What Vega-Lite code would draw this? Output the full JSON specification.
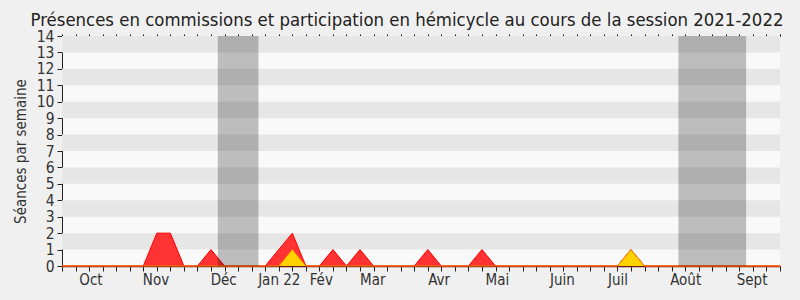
{
  "$schema": "https://vega.github.io/schema/vega-lite/v6.json",
  "width": 718,
  "height": 230,
  "autosize": "none",
  "padding": {"left": 62, "top": 36, "right": 20, "bottom": 34},
  "background": "#f0f0f0",
  "view": {"fill": "#f9f9f9", "stroke": null},
  "title": {
    "text": "Présences en commissions et participation en hémicycle au cours de la session 2021-2022",
    "font": "DejaVu Sans Condensed",
    "fontSize": 18.4,
    "fontWeight": "normal",
    "color": "#222222",
    "anchor": "middle",
    "offset": 0,
    "dx": -14
  },
  "config": {
    "axis": {"labelFont": "DejaVu Sans Condensed", "titleFont": "DejaVu Sans Condensed", "labelColor": "#333333", "titleColor": "#333333"}
  },
  "resolve": {"axis": {"x": "independent", "y": "independent"}},
  "layer": [
    {
      "data": {"values": [
        {"lo": 1, "hi": 2}, {"lo": 3, "hi": 4}, {"lo": 5, "hi": 6}, {"lo": 7, "hi": 8},
        {"lo": 9, "hi": 10}, {"lo": 11, "hi": 12}, {"lo": 13, "hi": 14}
      ]},
      "mark": {"type": "rect", "color": "#e6e6e6"},
      "encoding": {
        "x": {"datum": 0, "type": "quantitative",
          "scale": {"domain": [0, 53], "nice": false, "zero": false},
          "axis": {"orient": "bottom", "values": [0,1,2,3,4,5,6,7,8,9,10,11,12,13,14,15,16,17,18,19,20,21,22,23,24,25,26,27,28,29,30,31,32,33,34,35,36,37,38,39,40,41,42,43,44,45,46,47,48,49,50,51,52,53],
            "labels": false, "title": null, "grid": false, "tickSize": 5, "tickColor": "#222222", "domainColor": "#6b1b10", "domainWidth": 1.5}},
        "x2": {"datum": 53},
        "y": {"field": "lo", "type": "quantitative",
          "scale": {"domain": [0, 14], "nice": false},
          "axis": {"orient": "left", "values": [0,1,2,3,4,5,6,7,8,9,10,11,12,13,14], "title": "Séances par semaine", "titleFontSize": 15, "titleFontWeight": "normal", "titlePadding": 8,
            "labelFontSize": 15.5, "labelPadding": 3, "tickSize": 5, "tickColor": "#222222", "domainColor": "#222222", "grid": false, "labelFlush": false, "labelOverlap": false}},
        "y2": {"field": "hi"}
      }
    },
    {
      "data": {"values": [
        {"week": 0, "commissions": 0, "hemicycle": 0}, {"week": 1, "commissions": 0, "hemicycle": 0},
        {"week": 2, "commissions": 0, "hemicycle": 0}, {"week": 3, "commissions": 0, "hemicycle": 0},
        {"week": 4, "commissions": 0, "hemicycle": 0}, {"week": 5, "commissions": 0, "hemicycle": 0},
        {"week": 6, "commissions": 0, "hemicycle": 0}, {"week": 7, "commissions": 2, "hemicycle": 0},
        {"week": 8, "commissions": 2, "hemicycle": 0}, {"week": 9, "commissions": 0, "hemicycle": 0},
        {"week": 10, "commissions": 0, "hemicycle": 0}, {"week": 11, "commissions": 1, "hemicycle": 0},
        {"week": 12, "commissions": 0, "hemicycle": 0}, {"week": 13, "commissions": 0, "hemicycle": 0},
        {"week": 14, "commissions": 0, "hemicycle": 0}, {"week": 15, "commissions": 0, "hemicycle": 0},
        {"week": 16, "commissions": 1, "hemicycle": 0}, {"week": 17, "commissions": 2, "hemicycle": 1},
        {"week": 18, "commissions": 0, "hemicycle": 0}, {"week": 19, "commissions": 0, "hemicycle": 0},
        {"week": 20, "commissions": 1, "hemicycle": 0}, {"week": 21, "commissions": 0, "hemicycle": 0},
        {"week": 22, "commissions": 1, "hemicycle": 0}, {"week": 23, "commissions": 0, "hemicycle": 0},
        {"week": 24, "commissions": 0, "hemicycle": 0}, {"week": 25, "commissions": 0, "hemicycle": 0},
        {"week": 26, "commissions": 0, "hemicycle": 0}, {"week": 27, "commissions": 1, "hemicycle": 0},
        {"week": 28, "commissions": 0, "hemicycle": 0}, {"week": 29, "commissions": 0, "hemicycle": 0},
        {"week": 30, "commissions": 0, "hemicycle": 0}, {"week": 31, "commissions": 1, "hemicycle": 0},
        {"week": 32, "commissions": 0, "hemicycle": 0}, {"week": 33, "commissions": 0, "hemicycle": 0},
        {"week": 34, "commissions": 0, "hemicycle": 0}, {"week": 35, "commissions": 0, "hemicycle": 0},
        {"week": 36, "commissions": 0, "hemicycle": 0}, {"week": 37, "commissions": 0, "hemicycle": 0},
        {"week": 38, "commissions": 0, "hemicycle": 0}, {"week": 39, "commissions": 0, "hemicycle": 0},
        {"week": 40, "commissions": 0, "hemicycle": 0}, {"week": 41, "commissions": 0, "hemicycle": 0},
        {"week": 42, "commissions": 1, "hemicycle": 1}, {"week": 43, "commissions": 0, "hemicycle": 0},
        {"week": 44, "commissions": 0, "hemicycle": 0}, {"week": 45, "commissions": 0, "hemicycle": 0},
        {"week": 46, "commissions": 0, "hemicycle": 0}, {"week": 47, "commissions": 0, "hemicycle": 0},
        {"week": 48, "commissions": 0, "hemicycle": 0}, {"week": 49, "commissions": 0, "hemicycle": 0},
        {"week": 50, "commissions": 0, "hemicycle": 0}, {"week": 51, "commissions": 0, "hemicycle": 0},
        {"week": 52, "commissions": 0, "hemicycle": 0}, {"week": 53, "commissions": 0, "hemicycle": 0}
      ]},
      "resolve": {"axis": {"x": "independent", "y": "independent"}},
      "layer": [
        {
          "mark": {"type": "area", "color": "#ff3333", "opacity": 1, "line": {"color": "#ff0000", "strokeWidth": 1}},
          "encoding": {
            "x": {"field": "week", "type": "quantitative",
              "axis": {"orient": "top", "values": [0,1,2,3,4,5,6,7,8,9,10,11,12,13,14,15,16,17,18,19,20,21,22,23,24,25,26,27,28,29,30,31,32,33,34,35,36,37,38,39,40,41,42,43,44,45,46,47,48,49,50,51,52,53],
                "labels": false, "title": null, "grid": false, "domain": false, "tickSize": 2, "tickColor": "#000000"}},
            "y": {"field": "commissions", "type": "quantitative", "axis": null}
          }
        },
        {
          "mark": {"type": "area", "color": "#ffd200", "opacity": 1, "line": {"color": "#ff7f00", "strokeWidth": 1}},
          "encoding": {
            "x": {"field": "week", "type": "quantitative", "axis": null},
            "y": {"field": "hemicycle", "type": "quantitative", "axis": null}
          }
        }
      ]
    },
    {
      "data": {"values": [
        {"start": 11.5, "end": 14.5},
        {"start": 45.5, "end": 50.5}
      ]},
      "mark": {"type": "rect", "color": "#000000", "opacity": 0.24},
      "encoding": {
        "x": {"field": "start", "type": "quantitative",
          "axis": {"orient": "bottom", "values": [2.1, 6.9, 11.9, 16, 19.1, 22.9, 27.8, 32.1, 36.9, 41, 46, 50.9],
            "labelExpr": "datum.value < 4 ? 'Oct' : datum.value < 9 ? 'Nov' : datum.value < 14 ? 'Déc' : datum.value < 18 ? 'Jan 22' : datum.value < 21 ? 'Fév' : datum.value < 25 ? 'Mar' : datum.value < 30 ? 'Avr' : datum.value < 34 ? 'Mai' : datum.value < 39 ? 'Juin' : datum.value < 43 ? 'Juil' : datum.value < 48 ? 'Août' : 'Sept'",
            "labelFontSize": 15, "labelPadding": 6, "ticks": false, "domain": false, "grid": false, "title": null, "labelOverlap": false, "labelFlush": false}},
        "x2": {"field": "end"},
        "y": {"datum": 0, "type": "quantitative", "axis": null},
        "y2": {"datum": 14}
      }
    }
  ]
}
